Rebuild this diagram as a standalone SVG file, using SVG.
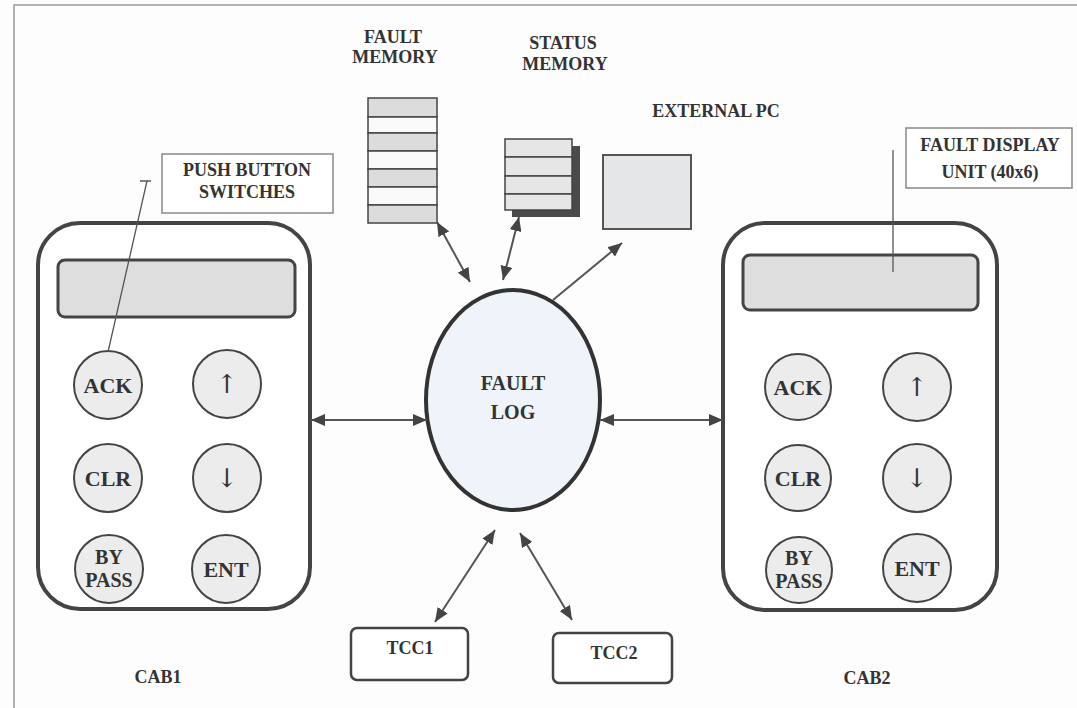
<svg xmlns="http://www.w3.org/2000/svg" width="1077" height="708" viewBox="0 0 1077 708">
<style>
  .t{font-family:"Liberation Serif","Times New Roman",serif;font-weight:bold;fill:#333;text-anchor:middle;dominant-baseline:central}
  .lbl{font-size:18px}
  .btn{fill:#ececec;stroke:#444;stroke-width:2}
  .bt{font-size:22px}
  .ar{font-family:"DejaVu Serif",serif;font-size:26px;font-weight:normal;fill:#333;text-anchor:middle;dominant-baseline:central}
  .bp{font-size:20px}
  .cab{fill:#fff;stroke:#444;stroke-width:4}
  .disp{fill:#dedede;stroke:#444;stroke-width:3}
  .box{fill:#fff;stroke:#888;stroke-width:1.5}
  .con{stroke:#555;stroke-width:2;fill:none}
  .lead{stroke:#555;stroke-width:1.3;fill:none}
  .g{fill:#dcdcdc;stroke:#444;stroke-width:1.5}
  .w{fill:#fafafa;stroke:#444;stroke-width:1.5}
  .s{fill:#e6e6e6;stroke:#444;stroke-width:1.5}
</style>
<defs>
  <marker id="ah" viewBox="0 0 14 12" refX="14" refY="6" markerWidth="14" markerHeight="12" markerUnits="userSpaceOnUse" orient="auto-start-reverse">
    <path d="M0,0 L14,6 L0,12 z" fill="#444"/>
  </marker>
</defs>
<rect width="1077" height="708" fill="#fdfdfd"/>
<path d="M14,708 L14,5 L1077,5" fill="none" stroke="#999" stroke-width="1.5"/>

<g id="labels">
  <text class="t lbl" x="393" y="37">FAULT</text>
  <text class="t lbl" x="395" y="57">MEMORY</text>
  <text class="t lbl" x="563" y="43">STATUS</text>
  <text class="t lbl" x="565" y="64">MEMORY</text>
  <text class="t lbl" x="716" y="111">EXTERNAL PC</text>
  <text class="t lbl" x="158" y="677">CAB1</text>
  <text class="t lbl" x="867" y="678">CAB2</text>
</g>

<g id="fault-memory">
  <rect class="g" x="368" y="98" width="69" height="19"/>
  <rect class="w" x="368" y="117" width="69" height="16"/>
  <rect class="g" x="368" y="133" width="69" height="18"/>
  <rect class="w" x="368" y="151" width="69" height="18"/>
  <rect class="g" x="368" y="169" width="69" height="18"/>
  <rect class="w" x="368" y="187" width="69" height="18"/>
  <rect class="g" x="368" y="205" width="69" height="18"/>
</g>

<g id="status-memory">
  <rect x="512" y="146" width="68" height="71" fill="#4a4a4a"/>
  <rect class="s" x="505" y="139" width="67" height="18"/>
  <rect class="s" x="505" y="157" width="67" height="19"/>
  <rect class="s" x="505" y="176" width="67" height="18"/>
  <rect class="s" x="505" y="194" width="67" height="16"/>
</g>

<g id="external-pc">
  <rect x="603" y="155" width="88" height="74" fill="#e4e6e8" stroke="#555" stroke-width="2"/>
</g>

<g id="push-button-switches">
  <rect class="box" x="162" y="154" width="171" height="59"/>
  <text class="t lbl" x="247" y="170">PUSH BUTTON</text>
  <text class="t lbl" x="247" y="192">SWITCHES</text>
</g>

<g id="fault-display-unit">
  <rect class="box" x="906" y="128" width="166" height="60"/>
  <text class="t lbl" x="990" y="145">FAULT DISPLAY</text>
  <text class="t lbl" x="990" y="172">UNIT (40x6)</text>
</g>

<g id="cab1">
  <rect class="cab" x="38" y="223" width="272" height="386" rx="42"/>
  <rect class="disp" x="58" y="260" width="237" height="57" rx="7"/>
  <circle class="btn" cx="108" cy="385" r="34"/><text class="t bt" x="108" y="385">ACK</text>
  <circle class="btn" cx="227" cy="384" r="34"/><text class="ar" x="227" y="384">↑</text>
  <circle class="btn" cx="108" cy="478" r="34"/><text class="t bt" x="108" y="478">CLR</text>
  <circle class="btn" cx="227" cy="478" r="34"/><text class="ar" x="227" y="478">↓</text>
  <circle class="btn" cx="109" cy="569" r="34"/><text class="t bp" x="109" y="557">BY</text><text class="t bp" x="109" y="580">PASS</text>
  <circle class="btn" cx="226" cy="569" r="34"/><text class="t bt" x="226" y="569">ENT</text>
</g>

<g id="cab2">
  <rect class="cab" x="723" y="223" width="274" height="387" rx="42"/>
  <rect class="disp" x="743" y="255" width="235" height="55" rx="7"/>
  <circle class="btn" cx="798" cy="387" r="33"/><text class="t bt" x="798" y="387">ACK</text>
  <circle class="btn" cx="917" cy="387" r="34"/><text class="ar" x="917" y="387">↑</text>
  <circle class="btn" cx="798" cy="478" r="33"/><text class="t bt" x="798" y="478">CLR</text>
  <circle class="btn" cx="917" cy="478" r="34"/><text class="ar" x="917" y="478">↓</text>
  <circle class="btn" cx="799" cy="570" r="33"/><text class="t bp" x="799" y="558">BY</text><text class="t bp" x="799" y="581">PASS</text>
  <circle class="btn" cx="917" cy="568" r="34"/><text class="t bt" x="917" y="568">ENT</text>
</g>

<g id="fault-log">
  <ellipse cx="513" cy="400" rx="87" ry="110" fill="#eef4fa" stroke="#333" stroke-width="4"/>
  <text class="t" style="font-size:20px" x="513" y="383">FAULT</text>
  <text class="t" style="font-size:20px" x="513" y="412">LOG</text>
</g>

<g id="tcc1">
  <rect x="351" y="628" width="117" height="52" rx="6" fill="#fff" stroke="#444" stroke-width="2.5"/>
  <text class="t lbl" x="410" y="648">TCC1</text>
</g>
<g id="tcc2">
  <rect x="553" y="633" width="119" height="50" rx="6" fill="#fff" stroke="#444" stroke-width="2.5"/>
  <text class="t lbl" x="614" y="653">TCC2</text>
</g>

<g id="connectors">
  <path class="lead" d="M140,181 L151,181 M147,181 L108,352"/>
  <path class="lead" d="M893,150 L893,272"/>
  <line class="con" x1="437" y1="222" x2="470" y2="282" marker-start="url(#ah)" marker-end="url(#ah)"/>
  <line class="con" x1="519" y1="217" x2="503" y2="280" marker-start="url(#ah)" marker-end="url(#ah)"/>
  <line class="con" x1="553" y1="300" x2="622" y2="243" marker-end="url(#ah)"/>
  <line class="con" x1="311" y1="420" x2="427" y2="420" marker-start="url(#ah)" marker-end="url(#ah)"/>
  <line class="con" x1="600" y1="420" x2="723" y2="420" marker-start="url(#ah)" marker-end="url(#ah)"/>
  <line class="con" x1="495" y1="530" x2="435" y2="622" marker-start="url(#ah)" marker-end="url(#ah)"/>
  <line class="con" x1="520" y1="533" x2="572" y2="620" marker-start="url(#ah)" marker-end="url(#ah)"/>
</g>
</svg>
